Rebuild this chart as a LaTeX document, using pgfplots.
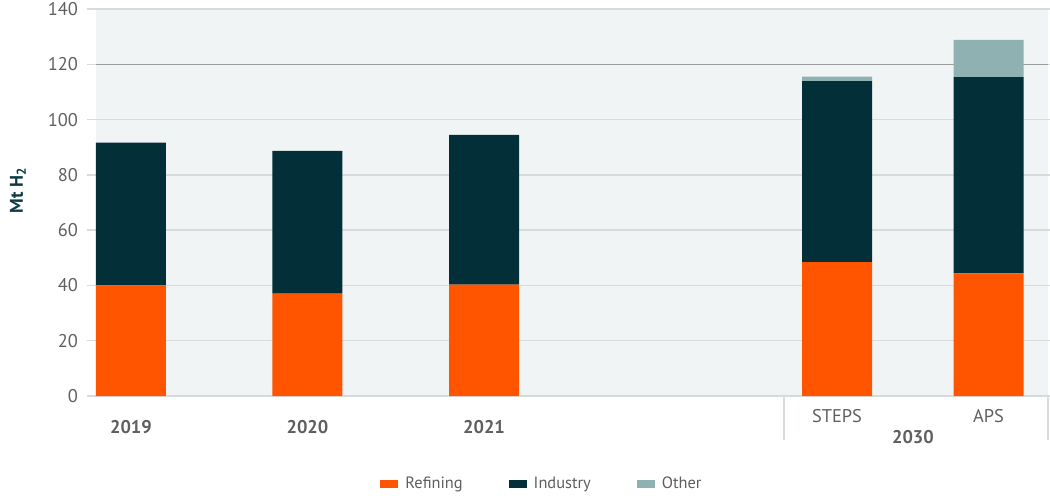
\documentclass[border=0pt]{standalone}
\usepackage{pgfplots}
\usepackage{pgfplotstable}
\pgfplotsset{compat=1.18}
\usepackage{fontspec}
\setmainfont{PT Sans}

\definecolor{refcol}{HTML}{FF5500}
\definecolor{indcol}{HTML}{022F38}
\definecolor{othcol}{HTML}{8FB1B2}
\definecolor{bgcol}{HTML}{F0F4F5}
\definecolor{gridcol}{HTML}{D6DBDD}
\definecolor{labcol}{HTML}{5F5F5F}
\definecolor{ylabcol}{HTML}{0F3B45}

\tikzset{catlabel/.style={font=\fontsize{9.2}{11}\selectfont, text=labcol}}

% x positions: 2019, 2020, 2021, 2030 STEPS, 2030 APS
\pgfplotstableread{
x     refining industry other
0     40.0     51.7     0
1     37.0     51.7     0
2     40.3     54.2     0
4     48.4     65.5     1.6
4.858 44.4     71.0     13.4
}\hydrogen

\begin{document}
\begin{tikzpicture}
\begin{axis}[
    at={(0,0)}, anchor=south west,
    width=476pt, height=193.5pt,
    scale only axis,
    ybar stacked,
    bar width=35pt,
    xmin=-0.198, xmax=5.195,
    ymin=0, ymax=140,
    ytick={0,20,...,140},
    xtick=\empty,
    axis line style={draw=none},
    axis background/.style={fill=bgcol},
    ymajorgrids,
    grid style={color=gridcol, line width=0.7pt},
    major tick length=4.5pt,
    tick align=outside,
    ytick style={color=gridcol, line width=0.7pt},
    tick label style={font=\fontsize{9.2}{11}\selectfont, color=labcol},
    /pgf/number format/assume math mode=true,
    yticklabel style={xshift=-1pt},
    ylabel={\textbf{Mt H\textsubscript{2}}},
    ylabel style={at={(rel axis cs:-0.082,0.532)}, anchor=center,
        font=\fontsize{9.2}{11}\selectfont, color=ylabcol},
    legend columns=3,
    legend style={draw=none, fill=none, at={(rel axis cs:0.4695,0)},
        anchor=center, yshift=-44pt,
        font=\fontsize{8.2}{10}\selectfont, text=labcol,
        /tikz/every even column/.style={column sep=21pt}},
    legend image code/.code={\fill[#1] (0pt,-2pt) rectangle (9pt,2pt); \path (10.5pt,0pt);},
    clip=false,
]
\addplot[fill=refcol, draw=none] table[x=x, y=refining] {\hydrogen};
\addplot[fill=indcol, draw=none] table[x=x, y=industry] {\hydrogen};
\addplot[fill=othcol, draw=none] table[x=x, y=other] {\hydrogen};
\legend{Refining, Industry, Other}

% darker 120 line
\draw[color=black!38, line width=0.7pt] (axis cs:-0.198,120) -- (axis cs:5.195,120);
% zero line
\draw[color=gridcol, line width=0.8pt] (axis cs:-0.198,0) -- (axis cs:5.195,0);

% category labels
\node[catlabel, yshift=-15.5pt] at (axis cs:0,0) {\textbf{2019}};
\node[catlabel, yshift=-15.5pt] at (axis cs:1,0) {\textbf{2020}};
\node[catlabel, yshift=-15.5pt] at (axis cs:2,0) {\textbf{2021}};
\node[catlabel, yshift=-10pt] at (axis cs:4,0) {STEPS};
\node[catlabel, yshift=-10pt] at (axis cs:4.858,0) {APS};
\node[catlabel, yshift=-20.5pt] at (axis cs:4.43,0) {\textbf{2030}};
\draw[color=gridcol, line width=0.7pt] (axis cs:3.70,0) -- ([yshift=-22pt]axis cs:3.70,0);
\draw[color=gridcol, line width=0.7pt] (axis cs:5.195,0) -- ([yshift=-22pt]axis cs:5.195,0);
\end{axis}
\pgfresetboundingbox
\path (-48pt,-49.5pt) rectangle (477pt,198pt);
\end{tikzpicture}
\end{document}
